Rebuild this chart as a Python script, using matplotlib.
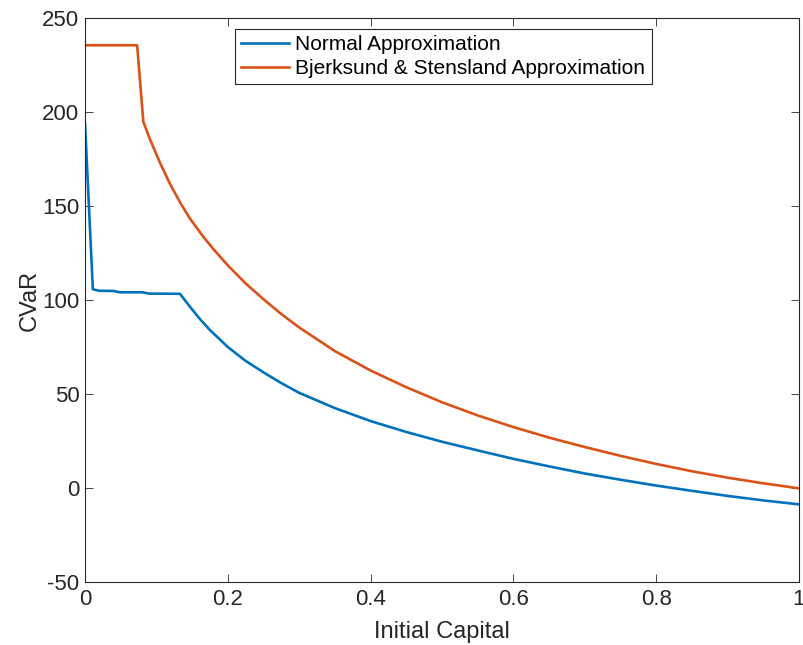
import matplotlib.pyplot as plt
import numpy as np

plt.rcParams['font.family'] = ['Liberation Sans', 'DejaVu Sans']
plt.rcParams['axes.unicode_minus'] = False

# data
normal_x = [0, 0.011, 0.02, 0.04, 0.049, 0.08, 0.09, 0.133, 0.147, 0.16, 0.175,
            0.2, 0.225, 0.25, 0.275, 0.3, 0.35, 0.4, 0.45, 0.5, 0.55,
            0.6, 0.65, 0.7, 0.75, 0.8, 0.85, 0.9, 0.95, 1.0]
normal_y = [194, 105.7, 104.9, 104.8, 104.1, 104.1, 103.4, 103.3, 96.4, 90.3, 84,
            75, 67.6, 61.5, 55.8, 50.6, 42.5, 35.6, 29.8, 24.6, 20,
            15.5, 11.5, 7.7, 4.4, 1.3, -1.5, -4.2, -6.6, -8.7]

bs_x = [0, 0.073, 0.0817, 0.091, 0.105, 0.119, 0.133, 0.147, 0.165, 0.18,
        0.2, 0.225, 0.25, 0.275, 0.3, 0.35, 0.4, 0.45, 0.5, 0.55,
        0.6, 0.65, 0.7, 0.75, 0.8, 0.85, 0.9, 0.95, 1.0]
bs_y = [235.5, 235.5, 194.8, 185.5, 173, 161.8, 152, 143.3, 134, 127,
        118.4, 108.8, 100.4, 92.5, 85.4, 72.8, 62.5, 53.6, 45.6, 38.6,
        32.4, 26.8, 21.8, 17.1, 12.8, 8.9, 5.5, 2.5, -0.2]

fig = plt.figure(figsize=(8.04, 6.45), dpi=100)
ax = fig.add_axes([85 / 804, 1 - 582 / 645, 714 / 804, 564 / 645])

ax.plot(normal_x, normal_y, color='#0072BD', lw=1.9, label='Normal Approximation')
ax.plot(bs_x, bs_y, color='#D95319', lw=1.9, label='Bjerksund & Stensland Approximation')

ax.set_xlim(0, 1)
ax.set_ylim(-50, 250)
ax.set_xticks([0, 0.2, 0.4, 0.6, 0.8, 1])
ax.set_xticklabels(['0', '0.2', '0.4', '0.6', '0.8', '1'])
ax.set_yticks(np.arange(-50, 251, 50))
ax.tick_params(direction='in', top=True, right=True, labelsize=16, length=6,
               width=0.6, colors='#262626')
ax.tick_params(axis='x', pad=5)
ax.tick_params(axis='y', pad=4)
for s in ax.spines.values():
    s.set_linewidth(0.8)
    s.set_color('#262626')

ax.set_xlabel('Initial Capital', fontsize=17, color='#262626', labelpad=8)
ax.set_ylabel('CVaR', fontsize=17, color='#262626', labelpad=1)

leg = ax.legend(loc='upper left', bbox_to_anchor=(150 / 714, 1 - 11 / 564), fontsize=15,
                fancybox=False, framealpha=1, edgecolor='#262626', borderpad=0.3,
                labelspacing=0.22, handlelength=2.3, handletextpad=0.3, borderaxespad=0)
leg.get_frame().set_linewidth(0.8)

plt.savefig('out.png', dpi=100)
plt.close()
